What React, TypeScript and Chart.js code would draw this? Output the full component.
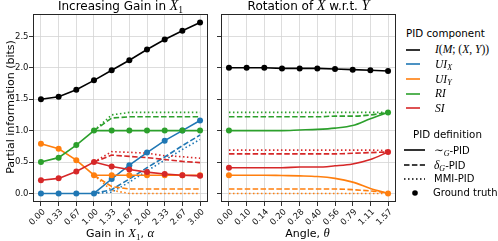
import React, { useEffect, useRef } from 'react';
import { Chart, registerables } from 'chart.js';
Chart.register(...registerables);

// ---------------- data ----------------
const gainCats = ['0.00', '0.33', '0.67', '1.00', '1.33', '1.67', '2.00', '2.33', '2.67', '3.00'];
const angleCats = ['0.00', '0.10', '0.14', '0.20', '0.28', '0.40', '0.56', '0.79', '1.11', '1.57'];
const yTickValues = [0, 0.5, 1.0, 1.5, 2.0, 2.5];
const yMin = -0.136;
const yMax = 2.856;

// Left panel: increasing gain. Ground truth (coincides with ~G-PID)
const gainI = [1.5, 1.54, 1.65, 1.8, 1.96, 2.12, 2.29, 2.45, 2.59, 2.72];
const gainUIX = [0, 0, 0, 0, 0.23, 0.45, 0.65, 0.84, 1.0, 1.16];
const gainUIY = [0.79, 0.71, 0.53, 0.29, 0.29, 0.29, 0.29, 0.29, 0.29, 0.29];
const gainRI = [0.5, 0.57, 0.77, 1.0, 1.0, 1.0, 1.0, 1.0, 1.0, 1.0];
const gainSI = [0.21, 0.24, 0.35, 0.5, 0.43, 0.38, 0.34, 0.31, 0.29, 0.28];
// delta_G-PID
const gainDeltaUIX = [null, null, null, 0, 0.06, 0.23, 0.41, 0.58, 0.76, 0.93];
const gainDeltaUIY = [null, null, null, 0.29, 0.11, 0.07, 0.07, 0.07, 0.07, 0.07];
const gainDeltaRI = [null, null, null, 1.0, 1.2, 1.22, 1.22, 1.22, 1.22, 1.22];
const gainDeltaSI = [null, null, null, 0.5, 0.61, 0.59, 0.57, 0.54, 0.51, 0.49];
// MMI-PID
const gainMmiUIX = [null, null, null, 0, 0.02, 0.18, 0.36, 0.53, 0.7, 0.86];
const gainMmiUIY = [null, null, null, 0.29, 0.05, 0.0, 0.0, 0.0, 0.0, 0.0];
const gainMmiRI = [null, null, null, 1.0, 1.25, 1.29, 1.29, 1.29, 1.29, 1.29];
const gainMmiSI = [null, null, null, 0.5, 0.665, 0.655, 0.64, 0.6, 0.585, 0.56];

// Right panel: rotation. Ground truth
const rotI = [2.0, 2.0, 2.0, 1.99, 1.99, 1.99, 1.98, 1.97, 1.96, 1.95];
const rotGtUIY = [0.29, null, null, null, null, null, null, null, null, 0.0];
const rotGtRI = [1.0, null, null, null, null, null, null, null, null, 1.29];
const rotGtSI = [0.41, null, null, null, null, null, null, null, null, 0.66];
// ~G-PID
const rotTildeUIY = [0.29, 0.29, 0.29, 0.285, 0.28, 0.27, 0.24, 0.18, 0.08, 0.0];
const rotTildeRI = [1.0, 1.0, 1.0, 1.0, 1.01, 1.02, 1.04, 1.08, 1.19, 1.29];
const rotTildeSI = [0.41, 0.41, 0.41, 0.41, 0.42, 0.42, 0.44, 0.47, 0.54, 0.66];
// delta_G-PID
const rotDeltaUIY = [0.07, 0.07, 0.07, 0.07, 0.07, 0.07, 0.07, 0.06, 0.04, 0.01];
const rotDeltaRI = [1.22, 1.22, 1.22, 1.22, 1.22, 1.22, 1.23, 1.23, 1.25, 1.29];
const rotDeltaSI = [0.63, 0.63, 0.63, 0.63, 0.63, 0.63, 0.63, 0.64, 0.65, 0.66];
// MMI-PID
const rotMmiUIY = [0, 0, 0, 0, 0, 0, 0, 0, 0, 0];
const rotMmiRI = [1.29, 1.29, 1.29, 1.29, 1.29, 1.29, 1.29, 1.29, 1.29, 1.29];
const rotMmiSI = [0.69, 0.69, 0.69, 0.69, 0.69, 0.69, 0.69, 0.69, 0.69, 0.68];

// ---------------- styles ----------------
const SANS = '"DejaVu Sans", sans-serif';
const SERIF = '"Liberation Serif", "DejaVu Serif", serif';
const COL = { black: '#000000', blue: '#1f77b4', orange: '#ff7f0e', green: '#2ca02c', red: '#d62728' };
const DASH = [5.5, 2.4];
const DOT = [1.5, 2.5];
const GRID = '#d4d4d4';
const TICK = '#333333';

type Val = number | null;
const pts = (vals: Val[]) => vals.map((y, x) => ({ x, y }));

function lineDs(vals: Val[], color: string, dash: number[] = [], smooth = false) {
  return {
    data: pts(vals),
    borderColor: color,
    backgroundColor: color,
    borderWidth: 1.6,
    borderDash: dash,
    borderCapStyle: 'butt',
    pointRadius: 0,
    pointHoverRadius: 0,
    fill: false,
    spanGaps: false,
    tension: 0,
    cubicInterpolationMode: smooth ? 'monotone' : 'default',
  };
}
function dotDs(vals: Val[], color: string) {
  return {
    data: pts(vals),
    showLine: false,
    pointRadius: 3,
    pointHoverRadius: 3,
    pointBackgroundColor: color,
    pointBorderColor: color,
    pointBorderWidth: 0,
    borderColor: color,
    backgroundColor: color,
  };
}

const framePlugin = {
  id: 'frame',
  afterDatasetsDraw(chart: any) {
    const { ctx, chartArea: a } = chart;
    ctx.save();
    ctx.strokeStyle = '#262626';
    ctx.lineWidth = 1;
    ctx.strokeRect(Math.round(a.left) + 0.5, Math.round(a.top) + 0.5, Math.round(a.right - a.left) - 1, Math.round(a.bottom - a.top) - 1);
    ctx.restore();
  },
};

function makeConfig(datasets: any[], cats: string[], yAxisWidth: number, padRight: number, showYLabels: boolean) {
  return {
    type: 'line',
    data: { datasets },
    options: {
      animation: false,
      responsive: false,
      maintainAspectRatio: false,
      events: [],
      layout: { padding: { top: 14, right: padRight, bottom: 0, left: 0 } },
      plugins: { legend: { display: false }, tooltip: { enabled: false }, title: { display: false } },
      scales: {
        x: {
          type: 'linear',
          min: -0.45,
          max: cats.length - 1 + 0.45,
          afterBuildTicks: (axis: any) => {
            axis.ticks = cats.map((_, i) => ({ value: i }));
          },
          afterFit: (axis: any) => {
            axis.height = 39;
          },
          border: { display: false },
          grid: { color: GRID, lineWidth: 0.8, tickLength: 4, tickColor: TICK, tickWidth: 1, drawTicks: true },
          ticks: {
            autoSkip: false,
            minRotation: 45,
            maxRotation: 45,
            padding: 1,
            labelOffset: 3,
            color: '#111',
            font: { family: SANS, size: 8.5 },
            callback: (v: any) => cats[Math.round(Number(v))] ?? '',
          },
        },
        y: {
          type: 'linear',
          min: yMin,
          max: yMax,
          afterBuildTicks: (axis: any) => {
            axis.ticks = yTickValues.map((v) => ({ value: v }));
          },
          afterFit: (axis: any) => {
            axis.width = yAxisWidth;
          },
          border: { display: false },
          grid: { color: GRID, lineWidth: 0.8, tickLength: 4, tickColor: TICK, tickWidth: 1, drawTicks: true },
          ticks: {
            display: showYLabels,
            padding: 0.5,
            color: '#111',
            font: { family: SANS, size: 8.5 },
            callback: (v: any) => Number(v).toFixed(1),
          },
        },
      },
    },
    plugins: [framePlugin],
  };
}

const gainDatasets = () => [
  dotDs(gainSI, COL.red),
  dotDs(gainRI, COL.green),
  dotDs(gainUIY, COL.orange),
  dotDs(gainUIX, COL.blue),
  dotDs(gainI, COL.black),
  lineDs(gainSI, COL.red),
  lineDs(gainRI, COL.green),
  lineDs(gainUIY, COL.orange),
  lineDs(gainUIX, COL.blue),
  lineDs(gainI, COL.black),
  lineDs(gainDeltaSI, COL.red, DASH),
  lineDs(gainDeltaRI, COL.green, DASH),
  lineDs(gainDeltaUIY, COL.orange, DASH),
  lineDs(gainDeltaUIX, COL.blue, DASH),
  lineDs(gainMmiSI, COL.red, DOT),
  lineDs(gainMmiRI, COL.green, DOT),
  lineDs(gainMmiUIY, COL.orange, DOT),
  lineDs(gainMmiUIX, COL.blue, DOT),
];

const rotDatasets = () => [
  dotDs(rotGtSI, COL.red),
  dotDs(rotGtRI, COL.green),
  dotDs(rotGtUIY, COL.orange),
  dotDs(rotI, COL.black),
  lineDs(rotTildeSI, COL.red, [], true),
  lineDs(rotTildeRI, COL.green, [], true),
  lineDs(rotTildeUIY, COL.orange, [], true),
  lineDs(rotI, COL.black),
  lineDs(rotDeltaSI, COL.red, DASH, true),
  lineDs(rotDeltaRI, COL.green, DASH, true),
  lineDs(rotDeltaUIY, COL.orange, DASH, true),
  lineDs(rotMmiUIY, COL.orange, DOT, true),
  lineDs(rotMmiSI, COL.red, DOT, true),
  lineDs(rotMmiRI, COL.green, DOT, true),
];

function ChartCanvas({ left, width, build }: { left: number; width: number; build: () => any }) {
  const ref = useRef<HTMLCanvasElement>(null);
  useEffect(() => {
    const chart = new Chart(ref.current as HTMLCanvasElement, build());
    return () => chart.destroy();
  }, []);
  return (
    <canvas
      ref={ref}
      width={width}
      height={241}
      style={{ position: 'absolute', left, top: 0, width, height: 241, display: 'block' }}
    />
  );
}

// --------------- text helpers ---------------
function Txt({ x, base, size, align = 'left', children }: any) {
  const style: any = {
    position: 'absolute',
    top: base - 0.846 * size,
    fontSize: size,
    lineHeight: `${size}px`,
    fontFamily: SANS,
    whiteSpace: 'nowrap',
    color: '#000',
  };
  if (align === 'center') {
    style.left = x - 150;
    style.width = 300;
    style.textAlign = 'center';
  } else {
    style.left = x;
  }
  return <div style={style}>{children}</div>;
}
const Mi = ({ children }: any) => (
  <span style={{ fontFamily: SERIF, fontStyle: 'italic', fontSize: '1.15em' }}>{children}</span>
);
const Mr = ({ children }: any) => <span style={{ fontFamily: SERIF, fontSize: '1.15em' }}>{children}</span>;
const Sub = ({ children, italic = false }: any) => (
  <span
    style={{
      fontFamily: SERIF,
      fontStyle: italic ? 'italic' : 'normal',
      fontSize: '0.8em',
      position: 'relative',
      top: '0.3em',
    }}
  >
    {children}
  </span>
);

function Sample({ x1, x2, y, color, dash }: any) {
  return (
    <svg style={{ position: 'absolute', left: x1, top: y - 3 }} width={x2 - x1} height={6}>
      <line x1={0} y1={3} x2={x2 - x1} y2={3} stroke={color} strokeWidth={1.6} strokeDasharray={dash ? dash.join(',') : undefined} />
    </svg>
  );
}

const compItems = [
  { color: COL.black, label: (<><Mi>I</Mi><Mr>(</Mr><Mi>M</Mi><Mr>; (</Mr><Mi>X</Mi><Mr>, </Mr><Mi>Y</Mi><Mr>))</Mr></>) },
  { color: COL.blue, label: (<><Mi>UI</Mi><Sub italic>X</Sub></>) },
  { color: COL.orange, label: (<><Mi>UI</Mi><Sub italic>Y</Sub></>) },
  { color: COL.green, label: (<Mi>RI</Mi>) },
  { color: COL.red, label: (<Mi>SI</Mi>) },
];

export default function App() {
  const LT = 10.3;
  const LS = 10;
  return (
    <div style={{ position: 'absolute', left: 0, top: 0, width: 498, height: 241, background: '#fff', overflow: 'hidden' }}>
      <ChartCanvas left={0} width={215} build={() => makeConfig(gainDatasets(), gainCats, 33, 7, true)} />
      <ChartCanvas left={205} width={195} build={() => makeConfig(rotDatasets(), angleCats, 16, 4, false)} />

      <Txt x={120.5} base={10.5} size={12} align="center">
        Increasing Gain in <Mi>X</Mi><Sub>1</Sub>
      </Txt>
      <Txt x={308.5} base={10.5} size={12} align="center">
        Rotation of <Mi>X</Mi> w.r.t. <Mi>Y</Mi>
      </Txt>
      <Txt x={120} base={237.5} size={11} align="center">
        Gain in <Mi>X</Mi><Sub>1</Sub>, <Mi>α</Mi>
      </Txt>
      <Txt x={307.5} base={237.5} size={11} align="center">
        Angle, <Mi>θ</Mi>
      </Txt>

      <div
        style={{
          position: 'absolute',
          left: -89,
          top: 101,
          width: 200,
          height: 12,
          fontSize: 11,
          lineHeight: '12px',
          fontFamily: SANS,
          color: '#000',
          textAlign: 'center',
          whiteSpace: 'nowrap',
          transform: 'rotate(-90deg)',
          transformOrigin: '100px 6px',
        }}
      >
        Partial information (bits)
      </div>

      <Txt x={406} base={36.7} size={LT}>PID component</Txt>
      {compItems.map((it, i) => {
        const y = 49.5 + 14.7 * i;
        return (
          <React.Fragment key={i}>
            <Sample x1={406} x2={420} y={y} color={it.color} />
            <Txt x={435} base={y + 3.3} size={LS}>{it.label}</Txt>
          </React.Fragment>
        );
      })}

      <Txt x={413} base={137.3} size={LT}>PID definition</Txt>
      <Sample x1={404} x2={425} y={150} color="#000" />
      <Txt x={434} base={153.3} size={LS}>
        <Mr>∼</Mr><Sub italic>G</Sub>-PID
      </Txt>
      <Sample x1={404} x2={425} y={164.7} color="#000" dash={DASH} />
      <Txt x={434} base={168} size={LS}>
        <Mi>δ</Mi><Sub italic>G</Sub>-PID
      </Txt>
      <Sample x1={404} x2={425} y={179.4} color="#000" dash={DOT} />
      <Txt x={434} base={182.7} size={LS}>MMI-PID</Txt>
      <svg style={{ position: 'absolute', left: 411, top: 189 }} width={8} height={8}>
        <circle cx={4} cy={4} r={2.8} fill="#000" />
      </svg>
      <Txt x={433} base={196.5} size={LS}>Ground truth</Txt>
    </div>
  );
}
